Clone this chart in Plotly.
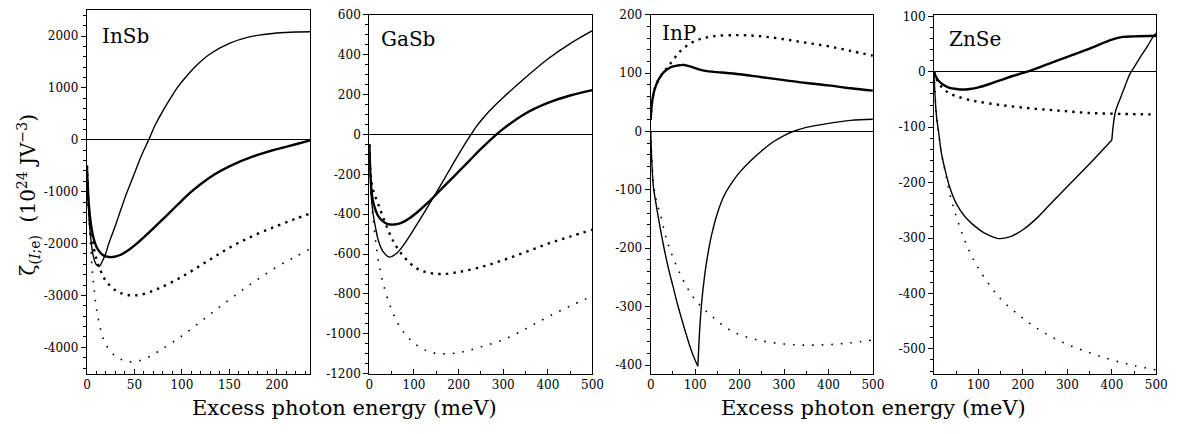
import math
import plotly.graph_objects as go

# ---------------- data (excess photon energy in meV, zeta in 1e24 J V^-3) ----------------
# InSb
insb_x_thin = [0, 1, 2, 4, 6, 8, 10, 13, 16, 20, 23, 30, 36, 42, 50, 57, 65, 72, 80, 88, 95, 105, 115,
               130, 150, 170, 186, 200, 220, 235]
insb_y_thin = [-500, -1050, -1450, -1900, -2180, -2330, -2410, -2440, -2350, -2180, -2000, -1650, -1330,
               -1020, -650, -320, 0, 290, 560, 800, 1000, 1230, 1430, 1660, 1860, 1980, 2030, 2060, 2080, 2085]
insb_x_thick = [0, 1, 2, 4, 6, 8, 10, 13, 16, 20, 27, 35, 45, 55, 68, 80, 90, 100, 110, 120, 135, 150,
                175, 200, 220, 235]
insb_y_thick = [-500, -950, -1250, -1600, -1820, -1960, -2060, -2150, -2210, -2245, -2260, -2220, -2110,
                -1960, -1740, -1530, -1350, -1170, -1000, -850, -660, -510, -320, -180, -85, -10]
insb_x_dot1 = [0, 1, 2, 5, 10, 15, 20, 30, 40, 50, 60, 75, 100, 125, 150, 175, 200, 220, 235]
insb_y_dot1 = [-500, -950, -1300, -1850, -2300, -2550, -2720, -2900, -2980, -3000, -2970, -2870, -2640,
               -2360, -2080, -1850, -1660, -1520, -1420]
insb_x_dot2 = [0, 1, 2, 4, 6, 8, 10, 15, 20, 30, 40, 48, 60, 75, 100, 125, 150, 175, 200, 220, 235]
insb_y_dot2 = [-500, -1000, -1500, -2100, -2600, -2950, -3250, -3700, -3950, -4170, -4260, -4280, -4230,
               -4080, -3780, -3430, -3080, -2750, -2450, -2250, -2100]

# GaSb
gasb_x_thin = [0, 2, 4, 7, 10, 15, 20, 30, 45, 60, 75, 100, 125, 150, 175, 200, 228, 240, 260, 280, 300,
               350, 400, 450, 500]
gasb_y_thin = [-50, -200, -300, -370, -420, -480, -530, -585, -615, -598, -560, -475, -385, -292, -196,
               -100, 0, 40, 95, 142, 185, 285, 378, 455, 520]
gasb_x_thick = [0, 2, 4, 7, 10, 15, 20, 30, 40, 55, 70, 90, 110, 130, 150, 175, 200, 225, 250, 285, 300,
                350, 400, 450, 500]
gasb_y_thick = [-50, -180, -260, -320, -350, -385, -410, -435, -448, -452, -445, -420, -385, -345, -300,
                -243, -187, -130, -73, 0, 28, 105, 158, 195, 222]
gasb_x_dot1 = [0, 2, 5, 10, 20, 30, 45, 60, 80, 105, 130, 160, 200, 250, 300, 350, 400, 450, 500]
gasb_y_dot1 = [-50, -170, -240, -290, -350, -410, -495, -560, -620, -670, -692, -700, -690, -665, -630,
               -590, -548, -512, -478]
gasb_x_dot2 = [0, 2, 4, 7, 10, 15, 20, 30, 45, 60, 80, 105, 135, 170, 210, 250, 300, 350, 400, 450, 500]
gasb_y_dot2 = [-50, -200, -300, -390, -450, -550, -630, -740, -850, -930, -1000, -1055, -1090, -1100,
               -1090, -1065, -1030, -975, -915, -860, -810]

# InP
inp_x_thick = [0, 1, 3, 6, 10, 15, 20, 30, 45, 60, 75, 90, 110, 130, 160, 200, 250, 300, 350, 400, 450, 500]
inp_y_thick = [20, 35, 50, 64, 75, 85, 92, 102, 110, 113, 114, 111, 106, 103, 101, 98, 93, 88, 83, 79, 74, 70]
inp_x_dot1 = [0, 1, 3, 6, 10, 15, 20, 30, 40, 50, 70, 100, 140, 200, 250, 300, 350, 400, 450, 500]
inp_y_dot1 = [20, 35, 50, 64, 75, 85, 92, 103, 112, 122, 140, 155, 163, 165, 163, 158, 152, 146, 138, 130]
inp_x_thin = [0, 1, 3, 6, 10, 15, 20, 30, 40, 50, 60, 70, 80, 90, 100, 106,
              108, 111, 115, 120, 126, 137, 150, 165, 185, 200, 225, 250, 275, 300, 320, 350, 400, 450, 500]
inp_y_thin = [0, -25, -60, -95, -115, -138, -160, -200, -235, -265, -295, -322, -348, -372, -392, -402,
              -370, -330, -290, -255, -222, -177, -140, -110, -85, -70, -50, -33, -18, -7, 0, 7, 14, 19, 21]
inp_x_dot2 = [0, 1, 3, 6, 10, 15, 22, 37, 59, 81, 103, 137, 185, 240, 300, 350, 400, 450, 500]
inp_y_dot2 = [0, -25, -55, -88, -110, -125, -143, -188, -232, -266, -291, -316, -343, -357, -364, -366,
              -365, -362, -357]

# ZnSe
znse_x_thick = [0, 2, 5, 10, 20, 35, 50, 65, 80, 100, 125, 150, 175, 200, 220, 250, 300, 350, 400, 425,
                450, 500]
znse_y_thick = [0, -5, -10, -16, -23, -29, -31, -32, -31, -28, -22, -15, -8, -2, 3, 12, 27, 42, 58, 63, 64, 65]
znse_x_thin = [0, 1, 3, 6, 10, 16, 25, 35, 50, 70, 100, 120, 145, 170, 200, 230, 260, 300, 350, 400,
               403, 408, 418, 430, 440, 450, 462, 480, 492, 500]
znse_y_thin = [0, -25, -55, -85, -108, -145, -178, -208, -238, -262, -284, -294, -301, -298, -285, -265,
               -240, -207, -166, -123, -98, -72, -50, -25, -5, 8, 24, 46, 62, 70]
znse_x_dot1 = [0, 2, 5, 10, 20, 33, 50, 75, 100, 150, 218, 280, 344, 420, 500]
znse_y_dot1 = [0, -6, -12, -20, -30, -38, -44, -50, -54, -60, -66, -70, -74, -76, -77]
znse_x_dot2 = [0, 1, 3, 6, 10, 16, 25, 40, 60, 80, 100, 125, 150, 200, 250, 300, 350, 400, 450, 500]
znse_y_dot2 = [0, -25, -55, -85, -108, -145, -180, -235, -285, -325, -355, -385, -410, -445, -472, -492,
               -507, -520, -530, -538]

panel_names = ["InSb", "GaSb", "InP", "ZnSe"]
y_ranges = [[-4510, 2505], [-1200, 600], [-415, 200], [-545, 103]]
x_ranges = [[0, 235], [0, 500], [0, 500], [0, 500]]
y_major = [1000, 200, 100, 100]
y_minor = [200, 50, 20, 20]
x_major = [50, 100, 100, 100]
x_minor = [10, 50, 50, 50]

# ---------------- layout geometry (pixels) ----------------
W, H = 1188, 434
x_px = [(84, 310), (370, 596), (655, 880), (942, 1167)]
y_px = [(3, 379), (8, 379), (8, 379), (8, 379)]

SERIF = "DejaVu Serif"
fig = go.Figure()

thin = dict(color="black", width=1.4)
thick = dict(color="black", width=2.4)
dot_dense = dict(color="black", width=2.4, dash="2.4px,5.2px")
dot_sparse = dict(color="black", width=1.6, dash="1.6px,8px")


def add(panel, xs, ys, style):
    ax = "" if panel == 0 else str(panel + 1)
    fig.add_trace(go.Scatter(x=xs, y=ys, mode="lines", line=dict(style, shape="spline", smoothing=1.0),
                             xaxis="x" + ax, yaxis="y" + ax, showlegend=False, hoverinfo="skip"))


def add_split(panel, xs, ys, style, k):
    # two spline pieces meeting at the cusp point k
    add(panel, xs[:k + 1], ys[:k + 1], style)
    add(panel, xs[k:], ys[k:], style)


add(0, insb_x_dot2, insb_y_dot2, dot_sparse)
add(0, insb_x_dot1, insb_y_dot1, dot_dense)
add(0, insb_x_thin, insb_y_thin, thin)
add(0, insb_x_thick, insb_y_thick, thick)

add(1, gasb_x_dot2, gasb_y_dot2, dot_sparse)
add(1, gasb_x_dot1, gasb_y_dot1, dot_dense)
add(1, gasb_x_thin, gasb_y_thin, thin)
add(1, gasb_x_thick, gasb_y_thick, thick)

add(2, inp_x_dot2, inp_y_dot2, dot_sparse)
add(2, inp_x_dot1, inp_y_dot1, dot_dense)
add_split(2, inp_x_thin, inp_y_thin, thin, inp_x_thin.index(106))
add(2, inp_x_thick, inp_y_thick, thick)

add(3, znse_x_dot2, znse_y_dot2, dot_sparse)
add(3, znse_x_dot1, znse_y_dot1, dot_dense)
add_split(3, znse_x_thin, znse_y_thin, thin, znse_x_thin.index(400))
add(3, znse_x_thick, znse_y_thick, thick)


def ticks(lo, hi, step):
    start = math.ceil(lo / step) * step
    vals = []
    v = start
    while v <= hi + 1e-9:
        vals.append(int(round(v)))
        v += step
    return vals


layout = dict(width=W, height=H, margin=dict(l=0, r=0, t=0, b=0),
              paper_bgcolor="white", plot_bgcolor="white", showlegend=False)

for i in range(4):
    ax = "" if i == 0 else str(i + 1)
    xv = ticks(x_ranges[i][0], x_ranges[i][1], x_major[i])
    yv = ticks(y_ranges[i][0], y_ranges[i][1], y_major[i])
    layout["xaxis" + ax] = dict(
        domain=[x_px[i][0] / W, x_px[i][1] / W], range=x_ranges[i], anchor="y" + ax,
        showgrid=False, zeroline=False, showline=True, linecolor="black", linewidth=1.3, mirror=True,
        ticks="inside", ticklen=5, tickwidth=1, tickcolor="black",
        tickvals=xv, ticktext=[str(v) for v in xv],
        minor=dict(dtick=x_minor[i], ticks="inside", ticklen=3, tickcolor="black", showgrid=False),
        tickfont=dict(family=SERIF, size=12, color="black"))
    layout["yaxis" + ax] = dict(
        domain=[1 - y_px[i][1] / H, 1 - y_px[i][0] / H], range=y_ranges[i], anchor="x" + ax,
        showgrid=False, zeroline=True, zerolinecolor="black", zerolinewidth=1,
        showline=True, linecolor="black", linewidth=1.3, mirror=True,
        ticks="outside", ticklen=5, tickwidth=1, tickcolor="black",
        tickvals=yv, ticktext=[str(v) for v in yv],
        minor=dict(dtick=y_minor[i], ticks="outside", ticklen=3, tickcolor="black", showgrid=False),
        tickfont=dict(family=SERIF, size=12, color="black"))

fig.update_layout(**layout)

# panel labels
label_pos = [(97, 30), (380, 33), (664, 27), (955, 33)]
for name, (px, py) in zip(panel_names, label_pos):
    fig.add_annotation(text=name, xref="paper", yref="paper", x=px / W, y=1 - py / H,
                       xanchor="left", yanchor="middle", showarrow=False,
                       font=dict(family=SERIF, size=20, color="black"))

# axis titles
fig.add_annotation(text="ζ<sub>(<i>I</i>;e)</sub>  (10<sup>24</sup> JV<sup>−3</sup>)",
                   xref="paper", yref="paper", x=25 / W, y=1 - 194 / H, textangle=-90,
                   xanchor="center", yanchor="middle", showarrow=False,
                   font=dict(family=SERIF, size=20, color="black"))
for cx in (345, 881):
    fig.add_annotation(text="Excess photon energy (meV)", xref="paper", yref="paper",
                       x=cx / W, y=1 - 414 / H, xanchor="center", yanchor="middle", showarrow=False,
                       font=dict(family=SERIF, size=21, color="black"))

fig.write_html("out.html")
